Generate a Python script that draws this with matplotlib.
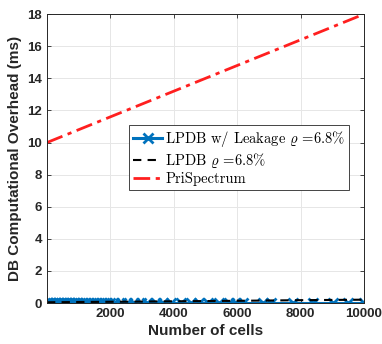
import matplotlib
matplotlib.use("Agg")
import matplotlib.pyplot as plt

plt.rcParams["mathtext.fontset"] = "cm"
plt.rcParams["font.family"] = ["Liberation Sans", "DejaVu Sans"]

# blue series: LPDB with leakage (markers are dense below 2000 cells)
leak_x = [10, 50, 100, 150, 200, 250, 300, 350, 400, 450, 500, 550, 600, 650,
          700, 750, 800, 850, 900, 950, 1000, 1100, 1200, 1300, 1400, 1500,
          1600, 1700, 1800, 1900, 2000, 2120, 2330, 2540, 2750, 2960, 3175,
          3440, 3650, 3910, 4230, 4550, 4810, 5070, 5440, 5760, 5970, 6180,
          6810, 7080, 7760, 8400, 9030, 9500, 10000]
leak_y = [0.02] * len(leak_x)

# black dashed: LPDB without leakage
lpdb_x = [10, 2000, 4000, 6000, 8000, 10000]
lpdb_y = [0.05, 0.08, 0.11, 0.14, 0.18, 0.21]

# red dash-dot: PriSpectrum
pri_x = [10, 10000]
pri_y = [10.0, 18.0]

xticks = [2000, 4000, 6000, 8000, 10000]
yticks = [0, 2, 4, 6, 8, 10, 12, 14, 16, 18]

fig = plt.figure(figsize=(3.82, 3.44), dpi=100)
ax = fig.add_axes([0.123, 0.119, 0.830, 0.840])

ax.plot(leak_x, leak_y, color="#0072BD", lw=2.2, marker="x", ms=7, mew=2,
        label=r"LPDB w/ Leakage $\varrho$ =6.8%")
ax.plot(lpdb_x, lpdb_y, color="black", lw=1.5, ls=(0, (4, 3)),
        label=r"LPDB $\varrho$ =6.8%")
ax.plot(pri_x, pri_y, color="#FF1F1F", lw=2, ls=(0, (6, 2, 1.5, 2)),
        label="PriSpectrum")

ax.set_xlim(10, 10000)
ax.set_ylim(0, 18)
ax.set_xticks(xticks)
ax.set_yticks(yticks)
ax.grid(True, color="#E6E6E6", lw=0.7)
ax.set_axisbelow(True)
ax.tick_params(direction="in", top=True, right=True, length=3, width=0.6,
               colors="#262626", labelsize=9.5)
for lab in ax.get_xticklabels() + ax.get_yticklabels():
    lab.set_fontweight("bold")
for sp in ax.spines.values():
    sp.set_color("#262626")
    sp.set_linewidth(0.7)

ax.set_xlabel("Number of cells", fontsize=11, fontweight="bold", color="#262626", labelpad=3)
ax.set_ylabel("DB Computational Overhead (ms)", fontsize=11, fontweight="bold",
              color="#262626", labelpad=4)

leg = ax.legend(loc="upper left", bbox_to_anchor=(0.26, 0.615), prop={"family": "cmr10", "size": 10.5},
                fancybox=False, framealpha=1, edgecolor="#262626", borderpad=0.25,
                labelspacing=0.15, handlelength=2.0, handletextpad=0.2, borderaxespad=0)
leg.get_frame().set_linewidth(0.6)

fig.savefig("out.png", dpi=100)
